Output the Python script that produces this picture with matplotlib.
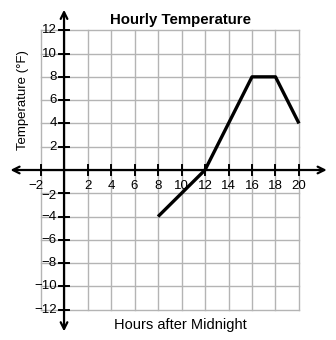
import matplotlib
import matplotlib.pyplot as plt
import numpy as np

matplotlib.use("Agg")

plt.rcParams["font.family"] = ["Liberation Sans", "DejaVu Sans"]

hours = [8, 10, 12, 14, 16, 18, 20]
temps = [-4, -2, 0, 4, 8, 8, 4]
x_ticks = [-2, 2, 4, 6, 8, 10, 12, 14, 16, 18, 20]
y_ticks = [-12, -10, -8, -6, -4, -2, 2, 4, 6, 8, 10, 12]


def fmt(v):
    return "\u2212" + str(-v) if v < 0 else str(v)


fig = plt.figure(figsize=(3.36, 3.40), dpi=100)
ax = fig.add_axes([0, 0, 1, 1])
ax.set_xlim(-5.45, 23.15)
ax.set_ylim(-14.6, 14.6)
ax.axis("off")

grid_c = "#b4b4b4"
for gx in np.arange(-2, 21, 2):
    ax.plot([gx, gx], [-12, 12], color=grid_c, lw=1.0, zorder=1)
for gy in np.arange(-12, 13, 2):
    ax.plot([-2, 20], [gy, gy], color=grid_c, lw=1.0, zorder=1)

# axes with arrows
arrow = dict(arrowstyle="<->", color="black", lw=1.6, mutation_scale=12)
ax.annotate("", xy=(-4.8, 0), xytext=(22.6, 0), arrowprops=arrow, zorder=3)
ax.annotate("", xy=(0, -14.1), xytext=(0, 14.0), arrowprops=arrow, zorder=3)

for t in x_ticks:
    ax.plot([t, t], [-0.4, 0.4], color="black", lw=1.4, zorder=3)
    # the -2 label sits a bit left so it clears the y-axis -2 label
    xt = t - 0.35 if t < 0 else t
    ax.text(xt, -0.85, fmt(t), ha="center", va="top", fontsize=9.5, zorder=4)
for t in y_ticks:
    ax.plot([-0.4, 0.4], [t, t], color="black", lw=1.4, zorder=3)
    yt = t - 0.25 if t == -2 else t
    ax.text(-0.6, yt, fmt(t), ha="right", va="center", fontsize=9.5, zorder=4)

ax.plot(hours, temps, color="black", lw=2.4, zorder=5, solid_capstyle="butt")

ax.text(9.9, 12.85, "Hourly Temperature", ha="center", va="center",
        fontsize=10.8, fontweight="bold")
ax.text(-3.45, 6.0, "Temperature (\u00b0F)", ha="center", va="center",
        rotation=90, fontsize=9.5)
ax.text(9.9, -13.3, "Hours after Midnight", ha="center", va="center", fontsize=10.5)

fig.savefig("out.png", dpi=100)
plt.close(fig)
